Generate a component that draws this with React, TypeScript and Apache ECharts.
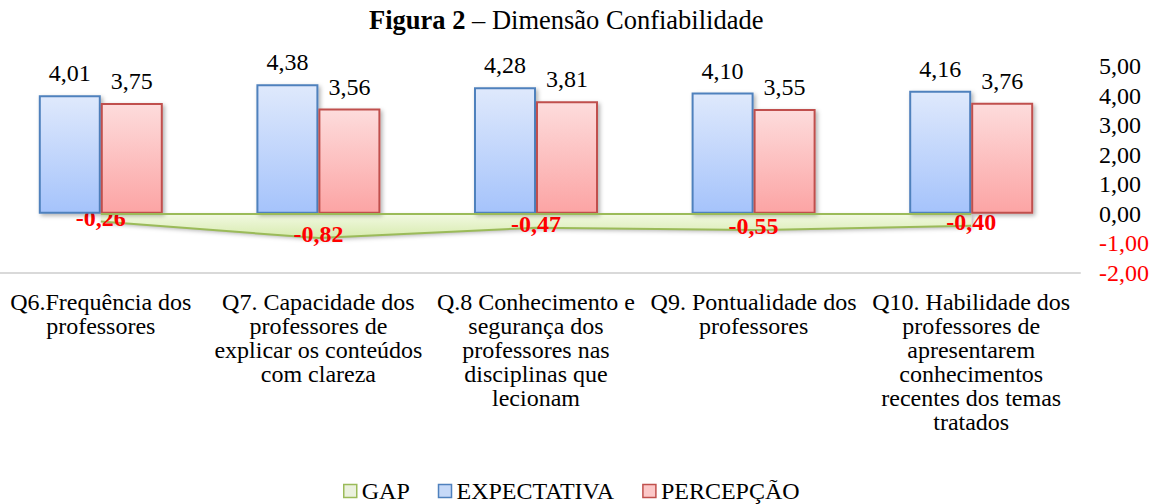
import React, { useEffect, useRef } from "react";
import * as echarts from "echarts";

const categories = [
  "Q6.Frequência dos\nprofessores",
  "Q7. Capacidade dos\nprofessores de\nexplicar os conteúdos\ncom clareza",
  "Q.8 Conhecimento e\nsegurança dos\nprofessores nas\ndisciplinas que\nlecionam",
  "Q9. Pontualidade dos\nprofessores",
  "Q10. Habilidade dos\nprofessores de\napresentarem\nconhecimentos\nrecentes dos temas\ntratados",
];
const expectativa = [4.01, 4.38, 4.28, 4.1, 4.16];
const percepcao = [3.75, 3.56, 3.81, 3.55, 3.76];
const gap = [-0.26, -0.82, -0.47, -0.55, -0.4];

const FONT = "Liberation Serif";
const FS = 24;
const fmt = (v: number) => v.toFixed(2).replace(".", ",");

export default function App() {
  const ref = useRef<HTMLDivElement>(null);
  useEffect(() => {
    document.body.style.margin = "0";
    document.body.style.overflow = "hidden";
    const chart = echarts.init(ref.current!, undefined, { renderer: "svg" });
    const shadow = {
      shadowColor: "rgba(0,0,0,0.3)",
      shadowBlur: 4,
      shadowOffsetX: 2,
      shadowOffsetY: 2,
    };
    chart.setOption({
      animation: false,
      textStyle: { fontFamily: FONT, color: "#000" },
      title: {
        text: "{b|Figura 2} – Dimensão Confiabilidade",
        left: 377,
        top: 6,
        padding: 0,
        textStyle: {
          fontFamily: FONT,
          fontSize: 26.5,
          fontWeight: "normal",
          color: "#000",
          rich: {
            b: { fontFamily: FONT, fontSize: 26.5, fontWeight: "bold", color: "#000" },
          },
        },
      },
      legend: {
        top: 474,
        left: 346,
        icon: "rect",
        itemWidth: 13,
        itemHeight: 13,
        itemGap: 28,
        itemTextGap: 5,
        textStyle: { fontFamily: FONT, fontSize: FS, lineHeight: 22, color: "#000" },
        data: [
          { name: "GAP", itemStyle: { color: "#ebf1de", borderColor: "#9bbb59", borderWidth: 1.5 } },
          { name: "EXPECTATIVA", itemStyle: { color: "#c6d9f8", borderColor: "#4f81bd", borderWidth: 1.5 } },
          { name: "PERCEPÇÃO", itemStyle: { color: "#fcc8c8", borderColor: "#c0504d", borderWidth: 1.5 } },
        ],
      },
      grid: { left: 0, right: 77, top: 66, bottom: 231, containLabel: false },
      xAxis: {
        type: "category",
        data: categories,
        boundaryGap: true,
        axisTick: { show: false },
        axisLine: { onZero: false, lineStyle: { color: "#d9d9d9", width: 2 } },
        axisLabel: {
          interval: 0,
          margin: 17,
          fontFamily: FONT,
          fontSize: FS,
          lineHeight: 24,
          color: "#000",
          align: "center",
        },
      },
      yAxis: {
        type: "value",
        position: "right",
        min: -2,
        max: 5,
        interval: 1,
        splitLine: { show: false },
        axisLine: { show: false },
        axisTick: { show: false },
        axisLabel: {
          margin: 19,
          fontFamily: FONT,
          fontSize: FS,
          color: "#000",
          formatter: (v: number) => (v < 0 ? `{n|${fmt(v)}}` : fmt(v)),
          rich: { n: { color: "#ff0000", fontFamily: FONT, fontSize: FS } },
        },
      },
      series: [
        {
          name: "GAP",
          type: "line",
          data: gap,
          z: 1,
          symbol: "circle",
          symbolSize: 0,
          lineStyle: { color: "#9bbb59", width: 2 },
          itemStyle: { color: "#9bbb59" },
          areaStyle: {
            color: new echarts.graphic.LinearGradient(0, 0, 0, 1, [
              { offset: 0, color: "#f2f9e2" },
              { offset: 1, color: "#d7ebae" },
            ]),
            opacity: 1,
            ...shadow,
          },
          markLine: {
            silent: true,
            symbol: "none",
            label: { show: false },
            lineStyle: { color: "#9bbb59", width: 2, type: "solid" },
            data: [[{ coord: [0, 0] }, { coord: [4, 0] }]],
          },
          label: {
            show: true,
            position: "inside",
            offset: [0, -4],
            formatter: (p: any) => fmt(p.value),
            fontFamily: FONT,
            fontSize: FS,
            fontWeight: "bold",
            color: "#ff0000",
          },
        },
        {
          name: "EXPECTATIVA",
          type: "bar",
          data: expectativa,
          z: 3,
          barWidth: 62,
          barGap: "0%",
          itemStyle: {
            color: new echarts.graphic.LinearGradient(0, 0, 0, 1, [
              { offset: 0, color: "#dfe9fc" },
              { offset: 1, color: "#a5c3fb" },
            ]),
            borderColor: "#4f81bd",
            borderWidth: 2,
            ...shadow,
          },
          label: {
            show: true,
            position: "top",
            distance: 10,
            formatter: (p: any) => fmt(p.value),
            fontFamily: FONT,
            fontSize: FS,
            color: "#000",
          },
        },
        {
          name: "PERCEPÇÃO",
          type: "bar",
          data: percepcao,
          z: 3,
          barWidth: 62,
          barGap: "0%",
          itemStyle: {
            color: new echarts.graphic.LinearGradient(0, 0, 0, 1, [
              { offset: 0, color: "#fddcdc" },
              { offset: 1, color: "#fca4a4" },
            ]),
            borderColor: "#c0504d",
            borderWidth: 2,
            ...shadow,
          },
          label: {
            show: true,
            position: "top",
            distance: 10,
            formatter: (p: any) => fmt(p.value),
            fontFamily: FONT,
            fontSize: FS,
            color: "#000",
          },
        },
      ],
    });
    return () => chart.dispose();
  }, []);
  return <div ref={ref} style={{ width: 1165, height: 504, marginLeft: -8 }} />;
}
